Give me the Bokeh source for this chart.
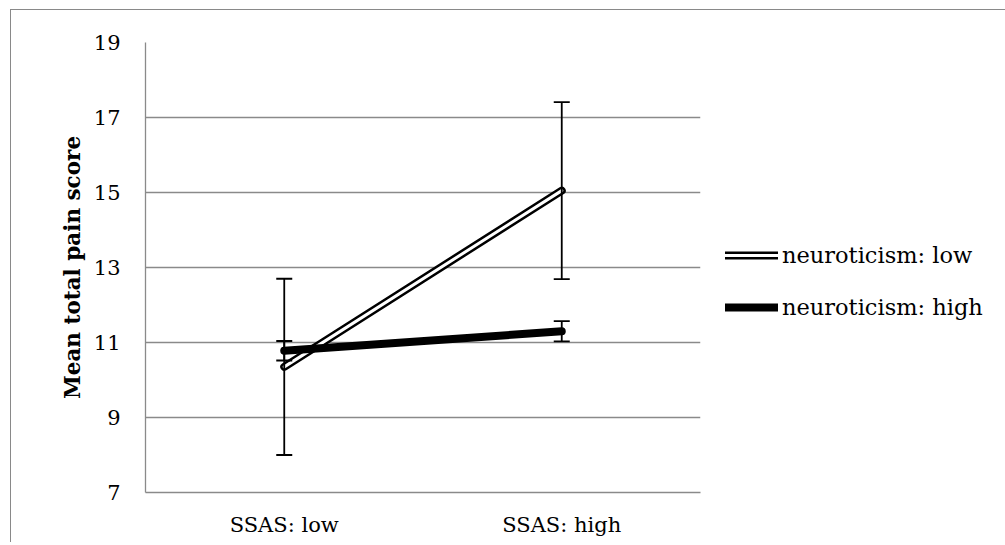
from bokeh.plotting import figure
from bokeh.models import (ColumnDataSource, FactorRange, Range1d, FixedTicker, Whisker,
                          TeeHead, Legend, LegendItem)
from bokeh.embed import file_html
from bokeh.resources import INLINE

# ---- data ----
categories = ["SSAS: low", "SSAS: high"]
low_mean = [10.35, 15.05]
low_err = [2.35, 2.36]
high_mean = [10.78, 11.30]
high_err = [0.26, 0.27]
y_ticks = [7, 9, 11, 13, 15, 17, 19]
series_names = ["neuroticism: low", "neuroticism: high"]

FONT = "DejaVu Serif"
GRID = "#8a8a8a"

p = figure(x_range=FactorRange(*categories), y_range=Range1d(7, 19),
           frame_width=555, frame_height=450,
           min_border_left=134, min_border_top=32, min_border_right=296, min_border_bottom=50,
           output_backend="svg", toolbar_location=None,
           margin=(9, 0, 0, 10),
           styles={"border-left": "1px solid #898989", "border-top": "1px solid #898989"})
p.outline_line_color = None
p.background_fill_color = "white"
p.border_fill_color = "white"

p.xgrid.grid_line_color = None
p.ygrid.grid_line_color = GRID
p.ygrid.grid_line_width = 1.3
p.yaxis.ticker = FixedTicker(ticks=y_ticks)

for ax in (p.xaxis[0], p.yaxis[0]):
    ax.axis_line_color = GRID
    ax.axis_line_width = 1.3
    ax.major_tick_line_color = None
    ax.minor_tick_line_color = None
    ax.major_tick_in = 0
    ax.major_tick_out = 0
    ax.major_label_text_font = FONT
    ax.major_label_text_font_size = "21px"
    ax.major_label_text_color = "black"

p.xaxis.major_label_standoff = 20
p.yaxis.major_label_standoff = 25
p.yaxis.axis_label = "Mean total pain score"
p.yaxis.axis_label_text_font = FONT
p.yaxis.axis_label_text_font_style = "bold"
p.yaxis.axis_label_text_font_size = "21.5px"
p.yaxis.axis_label_text_color = "black"
p.yaxis.axis_label_standoff = 6

src_low = ColumnDataSource(dict(x=categories, y=low_mean,
                                upper=[m + e for m, e in zip(low_mean, low_err)],
                                lower=[m - e for m, e in zip(low_mean, low_err)]))
src_high = ColumnDataSource(dict(x=categories, y=high_mean,
                                 upper=[m + e for m, e in zip(high_mean, high_err)],
                                 lower=[m - e for m, e in zip(high_mean, high_err)]))

def add_whisker(src):
    w = Whisker(base="x", upper="upper", lower="lower", source=src,
                line_color="black", line_width=1.8, level="glyph",
                upper_head=TeeHead(size=16, line_color="black", line_width=1.8),
                lower_head=TeeHead(size=16, line_color="black", line_width=1.8))
    p.add_layout(w)

# low neuroticism: double line
add_whisker(src_low)
r_low_outer = p.line("x", "y", source=src_low, line_color="black", line_width=8, line_cap="round", line_join="round")
r_low_inner = p.line("x", "y", source=src_low, line_color="white", line_width=3, line_cap="round", line_join="round")

# high neuroticism: thick line
add_whisker(src_high)
r_high = p.line("x", "y", source=src_high, line_color="black", line_width=8, line_cap="round", line_join="round")

legend = Legend(items=[LegendItem(label=series_names[0], renderers=[r_low_outer, r_low_inner]),
                       LegendItem(label=series_names[1], renderers=[r_high])],
                location=(25, 172), orientation="vertical",
                glyph_width=53, glyph_height=26, label_height=26, spacing=26,
                label_standoff=4, padding=0, margin=0,
                label_text_font=FONT, label_text_font_size="22.5px", label_text_color="black",
                border_line_color=None, background_fill_alpha=0)
p.add_layout(legend, "right")

open("out.html", "w").write(file_html(p, INLINE))
